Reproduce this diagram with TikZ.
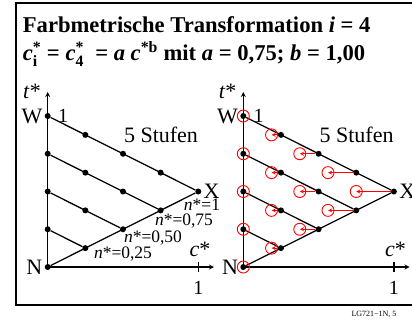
\documentclass[tikz,border=0pt]{standalone}
\usepackage{amsmath}
\usepackage{fontspec}
\setmainfont{Liberation Serif}
\usetikzlibrary{arrows}
\begin{document}
\begin{tikzpicture}[x=1bp, y=-1bp, >=stealth,
  dot/.style={circle, fill, inner sep=0pt, minimum size=6bp},
  grid/.style={line width=1.25bp},
  ring/.style={circle, draw=red, line width=0.9bp, inner sep=0pt, minimum size=12bp},
  shiftarrow/.style={red, ->, line width=0.9bp},
  title/.style={font=\fontsize{22.6bp}{27bp}\selectfont\bfseries, inner sep=0pt},
  lbl/.style={font=\fontsize{22bp}{26bp}\selectfont, inner sep=2bp},
  num/.style={font=\fontsize{20bp}{24bp}\selectfont, inner sep=0pt},
  nlbl/.style={font=\fontsize{17.5bp}{20bp}\selectfont, inner sep=0pt}]
  \useasboundingbox (0,0) rectangle (412,325);
  \clip (0,0) rectangle (412,325);
  \draw[line width=1.3bp] (16,3) rectangle (420,305);
  % title
  \node[title, anchor=base west] (head1) at (22.7,32)
    {Farbmetrische Transformation \textit{i} = 4};
  \node[title, anchor=base west] (head2) at (22.7,60)
    {$\text{\textit{c}}^{\text{*}}_{\text{i}}$ = $\text{\textit{c}}^{\text{*}}_{\text{4}}$\ \ = \textit{a} $\text{\textit{c}}^{\text{*b}}$ mit \textit{a} = 0,75; \textit{b} = 1,00};
  % both panels
  \foreach \p/\dx in {L/0, R/195.6} {
    \foreach \i in {0,...,4} {
      \pgfmathtruncatemacro\kmax{4-\i}
      \foreach \k in {0,...,\kmax}
        \node[dot] (d\p-\i-\k) at ({\dx+47.7+\i*37.65}, {267-\i*18.875-\k*37.75}) {};
    }
    \coordinate (tT\p) at ({\dx+47.7}, 92);
    \coordinate (cT\p) at ({\dx+214}, 267);
    \coordinate (tk\p) at ({\dx+198.3}, 267);
    \draw[grid, ->] (d\p-0-0.center) -- (tT\p);
    \draw[grid, ->] (d\p-0-0.center) -- (cT\p);
    \draw[grid] ([yshift=5bp]tk\p) -- ([yshift=-5bp]tk\p);
    \draw[grid] (d\p-0-0) -- (d\p-4-0);
    \foreach \m in {1,...,4}
      \draw[grid] (d\p-0-\m) -- (d\p-\m-0);
    \node[lbl, left] (W\p) at (d\p-0-4.west) {W};
    \node[lbl, left] (N\p) at (d\p-0-0.west) {N};
    \node[lbl, right] (X\p) at (d\p-4-0.east) {X};
    \node[num, right=7bp] (one\p) at (d\p-0-4.east) {1};
    \node[num] (tick\p) at ({\dx+198.3}, 288) {1};
    \node[lbl, inner sep=0pt] (tax\p) at ({\dx+32}, 91) {\textit{t}*};
    \node[lbl, inner sep=0pt] (cax\p) at ({\dx+200}, 249) {\textit{c}*};
    \node[lbl, inner sep=0pt] (steps\p) at ({\dx+161}, 135) {5 Stufen};
  }
  % n* labels
  \node[nlbl] (n100) at (202,205) {\textit{n}*=1};
  \node[nlbl] (n075) at (184,221) {\textit{n}*=0,75};
  \node[nlbl] (n050) at (153,238) {\textit{n}*=0,50};
  \node[nlbl] (n025) at (123,254) {\textit{n}*=0,25};
  % shifted colours, right panel
  \foreach \i in {0,...,4} {
    \pgfmathtruncatemacro\kmax{4-\i}
    \foreach \k in {0,...,\kmax} {
      \node[ring] (rR-\i-\k) at ({195.6+47.7+0.75*\i*37.65}, {267-\i*18.875-\k*37.75}) {};
      \ifnum\i>0
        \draw[shiftarrow] (dR-\i-\k) -- (rR-\i-\k.center);
      \fi
    }
  }
  \node[font=\fontsize{8bp}{9bp}\selectfont, inner sep=0pt] (foot) at (374,314) {LG721−1N, 5};
\end{tikzpicture}
\end{document}
